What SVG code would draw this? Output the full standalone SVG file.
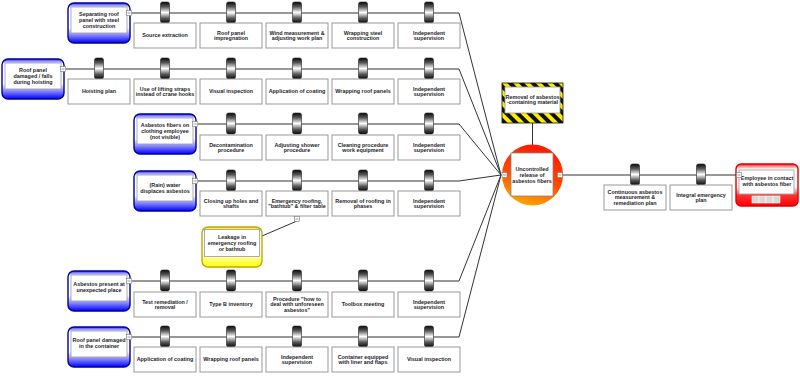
<svg xmlns="http://www.w3.org/2000/svg" width="800" height="381" viewBox="0 0 800 381">
<defs>
<linearGradient id="gBlue" x1="0" y1="0" x2="0" y2="1">
<stop offset="0" stop-color="#3030ff"/><stop offset="0.12" stop-color="#ffffff"/><stop offset="0.62" stop-color="#ffffff"/><stop offset="1" stop-color="#0000ff"/>
</linearGradient>
<linearGradient id="gYellow" x1="0" y1="0" x2="0" y2="1">
<stop offset="0" stop-color="#f5e800"/><stop offset="0.12" stop-color="#ffffff"/><stop offset="0.62" stop-color="#fffff0"/><stop offset="1" stop-color="#ffff00"/>
</linearGradient>
<linearGradient id="gRed" x1="0" y1="0" x2="0" y2="1">
<stop offset="0" stop-color="#ff2020"/><stop offset="0.12" stop-color="#ffffff"/><stop offset="0.55" stop-color="#ffffff"/><stop offset="0.75" stop-color="#ff3030"/><stop offset="1" stop-color="#ff0000"/>
</linearGradient>
<linearGradient id="gCircle" x1="0.5" y1="0" x2="0.2" y2="1">
<stop offset="0" stop-color="#ff1a00"/><stop offset="0.5" stop-color="#ff4a00"/><stop offset="1" stop-color="#ffb000"/>
</linearGradient>
<linearGradient id="gPill" x1="0" y1="0" x2="0" y2="1">
<stop offset="0" stop-color="#0a0a0a"/><stop offset="0.22" stop-color="#555"/><stop offset="0.5" stop-color="#ffffff"/><stop offset="0.78" stop-color="#555"/><stop offset="1" stop-color="#0a0a0a"/>
</linearGradient>
<pattern id="stripes" patternUnits="userSpaceOnUse" width="8" height="8" patternTransform="rotate(-45)">
<rect x="0" y="0" width="8" height="8" fill="#111"/><rect x="0" y="0" width="4" height="8" fill="#ffee00"/>
</pattern>
</defs>
<style>
text{font-family:"Liberation Sans",Arial,sans-serif;font-weight:bold;font-size:5.4px;fill:#1e1e2a;text-anchor:middle}
.ln{fill:none;stroke:#333;stroke-width:1}
.pill{fill:url(#gPill);stroke:#222;stroke-width:0.6}
.bx{fill:#fff;stroke:#999;stroke-width:1}
.thr{fill:url(#gBlue);stroke:#00009a;stroke-width:1.4}
.inner{fill:#fff;stroke:#999;stroke-width:0.8}
.minus{fill:#fff;stroke:#777;stroke-width:0.6}
.dash{stroke:#555;stroke-width:0.6}
</style>

<g id="connectors">
<polyline class="ln" points="132,13 459,13 501,175"/>
<polyline class="ln" points="66,69 459,69 501,175"/>
<polyline class="ln" points="198,124 459,124 501,175"/>
<polyline class="ln" points="198,181 459,181 501,175"/>
<polyline class="ln" points="132,281 459,281 501,175"/>
<polyline class="ln" points="132,337 459,337 501,175"/>
<line class="ln" x1="562" y1="175" x2="737" y2="175"/>
<line class="ln" x1="532.5" y1="123" x2="532.5" y2="145"/>
<line class="ln" x1="297" y1="221" x2="262" y2="236"/>
</g>

<!-- Threats -->
<g id="threat1">
<rect class="thr" x="68" y="3" width="62" height="40" rx="6"/>
<rect class="inner" x="71" y="7" width="56" height="26"/>
<text x="99" y="16.1"><tspan x="99">Separating roof</tspan><tspan x="99" dy="5.8">panel with steel</tspan><tspan x="99" dy="5.8">construction</tspan></text>
<rect class="minus" x="126.5" y="10.5" width="5" height="5"/><line class="dash" x1="127.5" y1="13" x2="130.5" y2="13"/>
</g>
<g id="threat2">
<rect class="thr" x="2" y="59" width="62" height="40" rx="6"/>
<rect class="inner" x="5" y="63" width="56" height="26"/>
<text x="33" y="72.1"><tspan x="33">Roof panel</tspan><tspan x="33" dy="5.8">damaged / falls</tspan><tspan x="33" dy="5.8">during hoisting</tspan></text>
<rect class="minus" x="60.5" y="66.5" width="5" height="5"/><line class="dash" x1="61.5" y1="69" x2="64.5" y2="69"/>
</g>
<g id="threat3">
<rect class="thr" x="134" y="114" width="62" height="40" rx="6"/>
<rect class="inner" x="137" y="118" width="56" height="26"/>
<text x="165" y="127.1"><tspan x="165">Asbestos fibers on</tspan><tspan x="165" dy="5.8">clothing employee</tspan><tspan x="165" dy="5.8">(not visible)</tspan></text>
<rect class="minus" x="192.5" y="121.5" width="5" height="5"/><line class="dash" x1="193.5" y1="124" x2="196.5" y2="124"/>
</g>
<g id="threat4">
<rect class="thr" x="134" y="171" width="62" height="40" rx="6"/>
<rect class="inner" x="137" y="175" width="56" height="26"/>
<text x="165" y="187"><tspan x="165">(Rain) water</tspan><tspan x="165" dy="5.8">displaces asbestos</tspan></text>
<rect class="minus" x="192.5" y="178.5" width="5" height="5"/><line class="dash" x1="193.5" y1="181" x2="196.5" y2="181"/>
</g>
<g id="threat5">
<rect class="thr" x="68" y="271" width="62" height="40" rx="6"/>
<rect class="inner" x="71" y="275" width="56" height="26"/>
<text x="99" y="286"><tspan x="99">Asbestos present at</tspan><tspan x="99" dy="5.8">unexpected place</tspan></text>
<rect class="minus" x="126.5" y="278.5" width="5" height="5"/><line class="dash" x1="127.5" y1="281" x2="130.5" y2="281"/>
</g>
<g id="threat6">
<rect class="thr" x="68" y="327" width="62" height="40" rx="6"/>
<rect class="inner" x="71" y="331" width="56" height="26"/>
<text x="99" y="342"><tspan x="99">Roof panel damaged</tspan><tspan x="99" dy="5.8">in the container</tspan></text>
<rect class="minus" x="126.5" y="334.5" width="5" height="5"/><line class="dash" x1="127.5" y1="337" x2="130.5" y2="337"/>
</g>

<!-- Row 1 barriers -->
<g id="b1-1"><rect class="pill" x="160.5" y="2" width="9" height="21" rx="2"/><rect class="bx" x="134" y="23" width="62" height="25"/><text x="165" y="37.4">Source extraction</text></g>
<g id="b1-2"><rect class="pill" x="226.5" y="2" width="9" height="21" rx="2"/><rect class="bx" x="200" y="23" width="62" height="25"/><text x="231" y="34.5"><tspan x="231">Roof panel</tspan><tspan x="231" dy="5.8">impregnation</tspan></text></g>
<g id="b1-3"><rect class="pill" x="292.5" y="2" width="9" height="21" rx="2"/><rect class="bx" x="266" y="23" width="62" height="25"/><text x="297" y="34.5"><tspan x="297">Wind measurement &amp;</tspan><tspan x="297" dy="5.8">adjusting work plan</tspan></text></g>
<g id="b1-4"><rect class="pill" x="358.5" y="2" width="9" height="21" rx="2"/><rect class="bx" x="332" y="23" width="62" height="25"/><text x="363" y="34.5"><tspan x="363">Wrapping steel</tspan><tspan x="363" dy="5.8">construction</tspan></text></g>
<g id="b1-5"><rect class="pill" x="424.5" y="2" width="9" height="21" rx="2"/><rect class="bx" x="398" y="23" width="62" height="25"/><text x="429" y="34.5"><tspan x="429">Independent</tspan><tspan x="429" dy="5.8">supervision</tspan></text></g>

<!-- Row 2 barriers -->
<g id="b2-1"><rect class="pill" x="94.5" y="58" width="9" height="21" rx="2"/><rect class="bx" x="68" y="79" width="62" height="25"/><text x="99" y="93.4">Hoisting plan</text></g>
<g id="b2-2"><rect class="pill" x="160.5" y="58" width="9" height="21" rx="2"/><rect class="bx" x="134" y="79" width="62" height="25"/><text x="165" y="90.5"><tspan x="165">Use of lifting straps</tspan><tspan x="165" dy="5.8">instead of crane hooks</tspan></text></g>
<g id="b2-3"><rect class="pill" x="226.5" y="58" width="9" height="21" rx="2"/><rect class="bx" x="200" y="79" width="62" height="25"/><text x="231" y="93.4">Visual inspection</text></g>
<g id="b2-4"><rect class="pill" x="292.5" y="58" width="9" height="21" rx="2"/><rect class="bx" x="266" y="79" width="62" height="25"/><text x="297" y="93.4">Application of coating</text></g>
<g id="b2-5"><rect class="pill" x="358.5" y="58" width="9" height="21" rx="2"/><rect class="bx" x="332" y="79" width="62" height="25"/><text x="363" y="93.4">Wrapping roof panels</text></g>
<g id="b2-6"><rect class="pill" x="424.5" y="58" width="9" height="21" rx="2"/><rect class="bx" x="398" y="79" width="62" height="25"/><text x="429" y="90.5"><tspan x="429">Independent</tspan><tspan x="429" dy="5.8">supervision</tspan></text></g>

<!-- Row 3 barriers -->
<g id="b3-1"><rect class="pill" x="226.5" y="113" width="9" height="21" rx="2"/><rect class="bx" x="200" y="135" width="62" height="25"/><text x="231" y="146.5"><tspan x="231">Decontamination</tspan><tspan x="231" dy="5.8">procedure</tspan></text></g>
<g id="b3-2"><rect class="pill" x="292.5" y="113" width="9" height="21" rx="2"/><rect class="bx" x="266" y="135" width="62" height="25"/><text x="297" y="146.5"><tspan x="297">Adjusting shower</tspan><tspan x="297" dy="5.8">procedure</tspan></text></g>
<g id="b3-3"><rect class="pill" x="358.5" y="113" width="9" height="21" rx="2"/><rect class="bx" x="332" y="135" width="62" height="25"/><text x="363" y="146.5"><tspan x="363">Cleaning procedure</tspan><tspan x="363" dy="5.8">work equipment</tspan></text></g>
<g id="b3-4"><rect class="pill" x="424.5" y="113" width="9" height="21" rx="2"/><rect class="bx" x="398" y="135" width="62" height="25"/><text x="429" y="146.5"><tspan x="429">Independent</tspan><tspan x="429" dy="5.8">supervision</tspan></text></g>

<!-- Row 4 barriers -->
<g id="b4-1"><rect class="pill" x="226.5" y="170" width="9" height="21" rx="2"/><rect class="bx" x="200" y="191" width="62" height="25"/><text x="231" y="202.5"><tspan x="231">Closing up holes and</tspan><tspan x="231" dy="5.8">shafts</tspan></text></g>
<g id="b4-2"><rect class="pill" x="292.5" y="170" width="9" height="21" rx="2"/><rect class="bx" x="266" y="191" width="62" height="25"/><text x="297" y="202.5"><tspan x="297">Emergency roofing,</tspan><tspan x="297" dy="5.8">"bathtub" &amp; filter table</tspan></text>
<rect class="minus" x="294.5" y="216.5" width="5" height="5"/><line class="dash" x1="295.5" y1="219" x2="298.5" y2="219"/></g>
<g id="b4-3"><rect class="pill" x="358.5" y="170" width="9" height="21" rx="2"/><rect class="bx" x="332" y="191" width="62" height="25"/><text x="363" y="202.5"><tspan x="363">Removal of roofing in</tspan><tspan x="363" dy="5.8">phases</tspan></text></g>
<g id="b4-4"><rect class="pill" x="424.5" y="170" width="9" height="21" rx="2"/><rect class="bx" x="398" y="191" width="62" height="25"/><text x="429" y="202.5"><tspan x="429">Independent</tspan><tspan x="429" dy="5.8">supervision</tspan></text></g>

<!-- Escalation factor -->
<g id="escalation">
<rect x="202" y="227" width="60" height="40" rx="6" fill="url(#gYellow)" stroke="#c0a800" stroke-width="1.4"/>
<rect class="inner" x="204.5" y="229.5" width="55" height="27"/>
<text x="232" y="239"><tspan x="232">Leakage in</tspan><tspan x="232" dy="5.8">emergency roofing</tspan><tspan x="232" dy="5.8">or bathtub</tspan></text>
</g>

<!-- Row 5 barriers -->
<g id="b5-1"><rect class="pill" x="160.5" y="270" width="9" height="21" rx="2"/><rect class="bx" x="134" y="292" width="62" height="25"/><text x="165" y="303.5"><tspan x="165">Test remediation /</tspan><tspan x="165" dy="5.8">removal</tspan></text></g>
<g id="b5-2"><rect class="pill" x="226.5" y="270" width="9" height="21" rx="2"/><rect class="bx" x="200" y="292" width="62" height="25"/><text x="231" y="306.4">Type B inventory</text></g>
<g id="b5-3"><rect class="pill" x="292.5" y="270" width="9" height="21" rx="2"/><rect class="bx" x="266" y="292" width="62" height="25"/><text x="297" y="300.6"><tspan x="297">Procedure "how to</tspan><tspan x="297" dy="5.8">deal with unforeseen</tspan><tspan x="297" dy="5.8">asbestos"</tspan></text></g>
<g id="b5-4"><rect class="pill" x="358.5" y="270" width="9" height="21" rx="2"/><rect class="bx" x="332" y="292" width="62" height="25"/><text x="363" y="306.4">Toolbox meeting</text></g>
<g id="b5-5"><rect class="pill" x="424.5" y="270" width="9" height="21" rx="2"/><rect class="bx" x="398" y="292" width="62" height="25"/><text x="429" y="303.5"><tspan x="429">Independent</tspan><tspan x="429" dy="5.8">supervision</tspan></text></g>

<!-- Row 6 barriers -->
<g id="b6-1"><rect class="pill" x="160.5" y="326" width="9" height="21" rx="2"/><rect class="bx" x="134" y="347" width="62" height="25"/><text x="165" y="361.4">Application of coating</text></g>
<g id="b6-2"><rect class="pill" x="226.5" y="326" width="9" height="21" rx="2"/><rect class="bx" x="200" y="347" width="62" height="25"/><text x="231" y="361.4">Wrapping roof panels</text></g>
<g id="b6-3"><rect class="pill" x="292.5" y="326" width="9" height="21" rx="2"/><rect class="bx" x="266" y="347" width="62" height="25"/><text x="297" y="358.5"><tspan x="297">Independent</tspan><tspan x="297" dy="5.8">supervision</tspan></text></g>
<g id="b6-4"><rect class="pill" x="358.5" y="326" width="9" height="21" rx="2"/><rect class="bx" x="332" y="347" width="62" height="25"/><text x="363" y="358.5"><tspan x="363">Container equipped</tspan><tspan x="363" dy="5.8">with liner and flaps</tspan></text></g>
<g id="b6-5"><rect class="pill" x="424.5" y="326" width="9" height="21" rx="2"/><rect class="bx" x="398" y="347" width="62" height="25"/><text x="429" y="361.4">Visual inspection</text></g>

<!-- Hazard -->
<g id="hazard">
<rect x="502" y="83" width="61" height="40" fill="url(#stripes)" stroke="#111" stroke-width="0.8"/>
<rect class="inner" x="505" y="87" width="55" height="26"/>
<text x="532.5" y="98.5"><tspan x="532.5">Removal of asbestos</tspan><tspan x="532.5" dy="5.8">-containing material</tspan></text>
</g>

<!-- Top event -->
<g id="top-event">
<circle cx="532.5" cy="175" r="30.5" fill="url(#gCircle)"/>
<rect x="511" y="153" width="42" height="43" fill="#fff" stroke="#888" stroke-width="0.8"/>
<text x="532" y="171.2"><tspan x="532">Uncontrolled</tspan><tspan x="532" dy="5.8">release of</tspan><tspan x="532" dy="5.8">asbestos fibers</tspan></text>
<rect class="minus" x="502" y="172.5" width="5" height="5"/><line class="dash" x1="503" y1="175" x2="506" y2="175"/>
<rect class="minus" x="557.5" y="172.5" width="5" height="5"/><line class="dash" x1="558.5" y1="175" x2="561.5" y2="175"/>
</g>

<!-- Consequence barriers -->
<g id="cb1"><rect class="pill" x="630.5" y="164" width="9" height="21" rx="2"/><rect class="bx" x="604" y="185" width="62" height="25"/><text x="635" y="193.6"><tspan x="635">Continuous asbestos</tspan><tspan x="635" dy="5.8">measurement &amp;</tspan><tspan x="635" dy="5.8">remediation plan</tspan></text></g>
<g id="cb2"><rect class="pill" x="696.5" y="164" width="9" height="21" rx="2"/><rect class="bx" x="670" y="185" width="62" height="25"/><text x="701" y="196.5"><tspan x="701">Integral emergency</tspan><tspan x="701" dy="5.8">plan</tspan></text></g>

<!-- Consequence -->
<g id="consequence">
<rect x="736" y="164" width="62" height="42" rx="5" fill="url(#gRed)" stroke="#e00000" stroke-width="1.4"/>
<rect class="inner" x="739" y="170" width="55" height="24"/>
<text x="767" y="180"><tspan x="767">Employee in contact</tspan><tspan x="767" dy="5.8">with asbestos fiber</tspan></text>
<rect class="minus" x="736.5" y="172.5" width="5" height="5"/><line class="dash" x1="737.5" y1="175" x2="740.5" y2="175"/>
<g fill="#d8d8d8" stroke="#fff" stroke-width="0.6">
<rect x="752" y="196" width="7" height="7"/><rect x="759" y="196" width="7" height="7"/><rect x="766" y="196" width="7" height="7"/><rect x="773" y="196" width="7" height="7"/>
</g>
</g>
</svg>
